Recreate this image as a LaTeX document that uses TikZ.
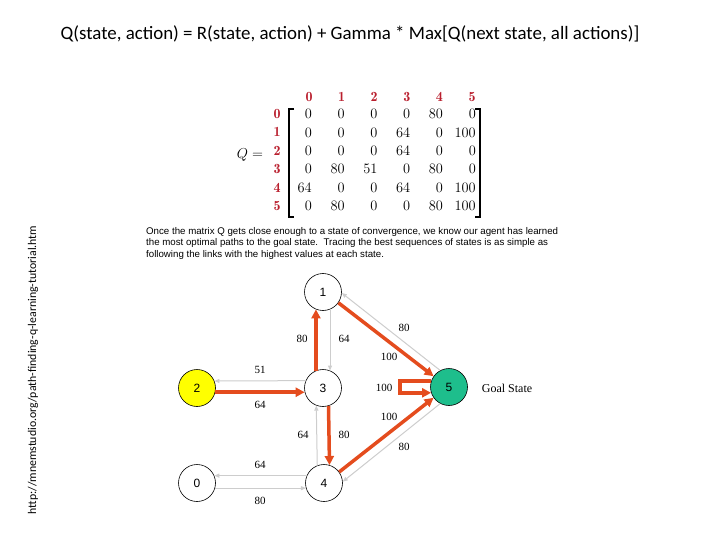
\documentclass[tikz,border=0pt]{standalone}
\usepackage{fontspec}
\usepackage{amsmath}
\newfontfamily\titlefont{Carlito}
\newfontfamily\notefont{Liberation Sans}
\newfontfamily\weightfont{Liberation Serif}
\usepackage{tikz}
\usetikzlibrary{arrows.meta}
\definecolor{pathred}{RGB}{228,76,30}
\definecolor{edgegray}{RGB}{205,205,205}
\definecolor{goalgreen}{RGB}{30,190,140}
\definecolor{stateyellow}{RGB}{255,255,0}
\definecolor{indexred}{RGB}{185,30,45}

\begin{document}
\begin{tikzpicture}[x=1pt,y=-1pt,
    state/.style={circle,draw,line width=.6pt,minimum size=37pt,inner sep=0pt,
      font=\notefont\fontsize{12}{12}\selectfont},
    best/.style={draw=pathred,line width=3.5pt,-{Triangle[length=9pt,width=9pt]}},
    other/.style={draw=edgegray,line width=1pt,-{Triangle[length=5pt,width=4pt]}},
    weight/.style={font=\weightfont\fontsize{11}{11}\selectfont,inner sep=1pt},
    cell/.style={anchor=east,inner sep=0pt,font=\fontsize{14}{14}\selectfont},
    head/.style={inner sep=0pt,text=indexred,font=\fontsize{14}{14}\selectfont}]
  \useasboundingbox (0,0) rectangle (720,540);

  \node[font=\titlefont\fontsize{18.9}{18.9}\selectfont] (title) at (350,34)
    {Q(state, action) = R(state, action) + Gamma * Max[Q(next state, all actions)]};
  \node[rotate=90,font=\titlefont\fontsize{11.8}{11.8}\selectfont] (url) at (33,370)
    {http://mnemstudio.org/path-finding-q-learning-tutorial.htm};

  % reward matrix
  \node[font=\fontsize{15}{15}\selectfont] (qname) at (250,155) {$Q=$};
  \foreach \c in {0,...,5}{
    \node[head] (h-\c) at ({309+32.6*\c},97) {$\mathbf{\c}$};
    \node[head] (r-\c) at (277,{114+18.4*\c}) {$\mathbf{\c}$};
  }
  \foreach \r/\vals in {0/{0,0,0,0,80,0},1/{0,0,0,64,0,100},2/{0,0,0,64,0,0},
      3/{0,80,51,0,80,0},4/{64,0,0,64,0,100},5/{0,80,0,0,80,100}}{
    \foreach \v [count=\c from 0] in \vals
      \node[cell] (q-\r-\c) at ({312+32.8*\c},{114+18.4*\r}) {$\v$};
  }
  \draw[line width=1.2pt] (294,109) -- (289,109) -- (289,217) -- (294,217);
  \draw[line width=1.2pt] (475,109) -- (480,109) -- (480,217) -- (475,217);

  \node[anchor=north west,align=left,inner sep=0pt,
    font=\notefont\fontsize{9.7}{11.5}\selectfont] (note) at (146,227)
    {Once the matrix Q gets close enough to a state of convergence, we know our agent has learned\\
     the most optimal paths to the goal state.\ \ Tracing the best sequences of states is as simple as\\
     following the links with the highest values at each state.};

  % states
  \node[state] (s1) at (323,292) {1};
  \node[state,fill=stateyellow] (s2) at (197,388) {2};
  \node[state] (s3) at (323,388) {3};
  \node[state] (s0) at (197,483) {0};
  \node[state] (s4) at (324,483) {4};
  \node[state,fill=goalgreen] (s5) at (449,387) {5};
  \node[font=\weightfont\fontsize{12}{12}\selectfont] (goal) at (507,388) {Goal State};

  % links
  \draw[other] (s1.-68) -- (s3.68);
  \draw[other] (s3.157) -- (s2.22);
  \draw[other] (s4.111) -- (s3.249);
  \draw[other] (s4.157) -- (s0.23);
  \draw[other] (s0.-16) -- (s4.196);
  \draw[other] (s5.118) -- (s1.-3);
  \draw[other] (s5.242) -- (s4.4);
  \draw[best] (s3.112) -- (s1.248);
  \draw[best] (s2.-13) -- (s3.193);
  \draw[best] (s3.-73) -- (s4.73);
  \draw[best] (s1.-35) -- (s5.145);
  \draw[best] (s4.36) -- (s5.215);
  \draw[best] (s5.162) -- ++(-31,0) |- (s5.198);

  \node[weight] (w31) at (302,339) {80};
  \node[weight] (w13) at (344,339) {64};
  \node[weight] (w32) at (260,370) {51};
  \node[weight] (w23) at (260,405) {64};
  \node[weight] (w51) at (404,328) {80};
  \node[weight] (w15) at (389,357) {100};
  \node[weight] (w55) at (384,388) {100};
  \node[weight] (w45) at (389,417) {100};
  \node[weight] (w54) at (404,447) {80};
  \node[weight] (w43) at (303,435) {64};
  \node[weight] (w34) at (344,435) {80};
  \node[weight] (w40) at (260,465) {64};
  \node[weight] (w04) at (260,501) {80};
\end{tikzpicture}
\end{document}
